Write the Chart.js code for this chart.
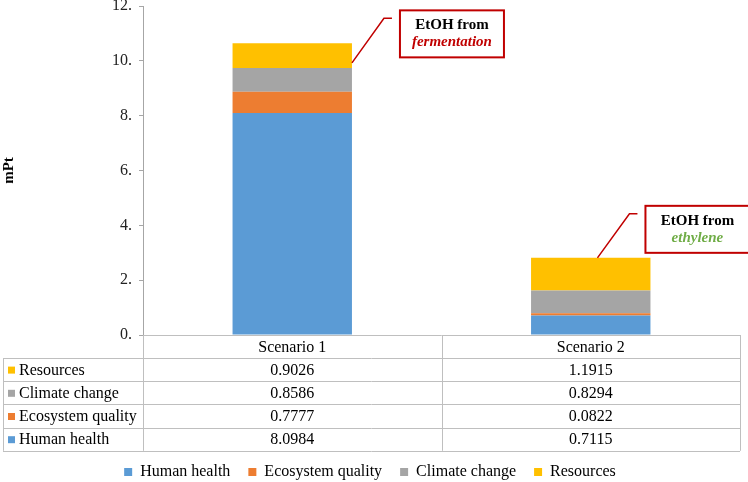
<!DOCTYPE html>
<html>
<head>
<meta charset="utf-8">
<script src="https://cdn.jsdelivr.net/npm/chart.js@4/dist/chart.umd.min.js"></script>
<style>
  body { margin: 0; background: #fff; }
  #wrap { width: 748px; height: 482px; }
</style>
</head>
<body>
<div id="wrap"><canvas id="impact"></canvas></div>
<script>
var scenarios = ['Scenario 1', 'Scenario 2'];
var humanHealth = [8.0984, 0.7115];
var ecosystemQuality = [0.7777, 0.0822];
var climateChange = [0.8586, 0.8294];
var resources = [0.9026, 1.1915];
var yTicks = [0, 2, 4, 6, 8, 10, 12];

var seriesNames = ['Human health', 'Ecosystem quality', 'Climate change', 'Resources'];
var seriesColors = ['#5B9BD5', '#ED7D31', '#A5A5A5', '#FFC000'];
var seriesValues = [humanHealth, ecosystemQuality, climateChange, resources];

var calloutTitle = 'EtOH from';
var calloutSource = ['fermentation', 'ethylene'];
var calloutColors = ['#C00000', '#70AD47'];

var serif = '"Liberation Serif", "Times New Roman", serif';
var gridGray = '#BFBFBF';
var legendPadding = 18;
var legendFont = 16;

// callout placement relative to the top-right of each stacked bar
var callouts = [
    { lineFrom: [0, 19.5], lineMid: [32, -25], lineEnd: [40, -25], box: [48, -33, 104, 47] },
    { lineFrom: [-53, 0], lineMid: [-21, -44], lineEnd: [-13, -44], box: [-5, -52, 104, 47] }
];

function fmt(v) {
    return v.toFixed(4);
}

var tablePlugin = {
    id: 'dataTable',
    afterLayout: function (chart) {
        // drop the legend row down to the bottom of the page
        var lg = chart.legend;
        var newTop = 472 - legendPadding - legendFont / 2;
        var shift = newTop - lg.top;
        lg.top += shift;
        lg.bottom += shift;
    },
    afterDraw: function (chart) {
        var ctx = chart.ctx;
        var x = chart.scales.x;
        var area = chart.chartArea;
        var top = area.bottom;
        var headerH = 23;
        var rowH = 23.2;
        var left = 3;
        var right = area.right;
        var colEdges = [area.left];
        for (var i = 0; i < scenarios.length; i++) {
            colEdges.push(i + 1 < scenarios.length ? (x.getPixelForValue(i) + x.getPixelForValue(i + 1)) / 2 : right);
        }
        var rowsOrder = [3, 2, 1, 0];
        var bottom = top + headerH + rowH * rowsOrder.length;

        ctx.save();
        ctx.strokeStyle = gridGray;
        ctx.lineWidth = 1;
        ctx.beginPath();
        ctx.moveTo(area.left, top + 0.5);
        ctx.lineTo(right, top + 0.5);
        for (var r = 0; r <= rowsOrder.length; r++) {
            var yy = Math.round(top + headerH + r * rowH) + 0.5;
            ctx.moveTo(left, yy);
            ctx.lineTo(right, yy);
        }
        ctx.moveTo(left + 0.5, top + headerH);
        ctx.lineTo(left + 0.5, bottom);
        colEdges.forEach(function (cx) {
            ctx.moveTo(Math.round(cx) + 0.5, top);
            ctx.lineTo(Math.round(cx) + 0.5, bottom);
        });
        ctx.stroke();

        ctx.fillStyle = '#000';
        ctx.font = '16px ' + serif;
        ctx.textBaseline = 'middle';
        ctx.textAlign = 'center';
        scenarios.forEach(function (s, i) {
            ctx.fillText(s, (colEdges[i] + colEdges[i + 1]) / 2, top + headerH / 2 + 1);
        });
        rowsOrder.forEach(function (k, r) {
            var cy = top + headerH + r * rowH + rowH / 2 + 1;
            ctx.fillStyle = seriesColors[k];
            ctx.fillRect(left + 5, cy - 4, 7, 7);
            ctx.fillStyle = '#000';
            ctx.textAlign = 'left';
            ctx.fillText(seriesNames[k], left + 16, cy);
            ctx.textAlign = 'center';
            seriesValues[k].forEach(function (v, i) {
                ctx.fillText(fmt(v), (colEdges[i] + colEdges[i + 1]) / 2, cy);
            });
        });

        // callouts
        var topMeta = chart.getDatasetMeta(seriesValues.length - 1);
        topMeta.data.forEach(function (bar, i) {
            var c = callouts[i];
            var ox = bar.x + bar.width / 2;
            var oy = bar.y;
            ctx.strokeStyle = '#C00000';
            ctx.lineWidth = 1.5;
            ctx.beginPath();
            ctx.moveTo(ox + c.lineFrom[0], oy + c.lineFrom[1]);
            ctx.lineTo(ox + c.lineMid[0], oy + c.lineMid[1]);
            ctx.lineTo(ox + c.lineEnd[0], oy + c.lineEnd[1]);
            ctx.stroke();
            var bx = ox + c.box[0], by = oy + c.box[1], bw = c.box[2], bh = c.box[3];
            ctx.fillStyle = '#fff';
            ctx.fillRect(bx, by, bw, bh);
            ctx.lineWidth = 2;
            ctx.strokeRect(bx, by, bw, bh);
            ctx.textAlign = 'center';
            ctx.fillStyle = '#000';
            ctx.font = 'bold 15px ' + serif;
            ctx.fillText(calloutTitle, bx + bw / 2, by + 15);
            ctx.fillStyle = calloutColors[i];
            ctx.font = 'italic bold 15px ' + serif;
            ctx.fillText(calloutSource[i], bx + bw / 2, by + 32);
        });
        ctx.restore();
    }
};

var datasets = seriesNames.map(function (name, k) {
    return {
        label: name,
        data: seriesValues[k],
        backgroundColor: seriesColors[k],
        borderWidth: 0,
        barPercentage: 0.4,
        categoryPercentage: 1
    };
});

new Chart(document.getElementById('impact'), {
    type: 'bar',
    data: { labels: scenarios, datasets: datasets },
    plugins: [tablePlugin],
    options: {
        responsive: true,
        maintainAspectRatio: false,
        animation: false,
        layout: { padding: { top: 6, right: 8, left: 0, bottom: 0 } },
        plugins: {
            tooltip: { enabled: false },
            legend: {
                position: 'bottom',
                labels: {
                    boxWidth: 8,
                    boxHeight: 8,
                    padding: legendPadding,
                    color: '#000',
                    font: { family: serif, size: legendFont }
                }
            }
        },
        scales: {
            x: {
                stacked: true,
                grid: { display: false },
                border: { display: false },
                ticks: { display: false },
                afterFit: function (scale) {
                    var legendH = legendFont + legendPadding + 10;
                    scale.height = 482 - 335 - legendH;
                }
            },
            y: {
                stacked: true,
                min: 0,
                max: 12,
                afterBuildTicks: function (scale) {
                    scale.ticks = yTicks.map(function (v) { return { value: v }; });
                },
                afterFit: function (scale) {
                    scale.width = 143;
                    scale.paddingTop = 0;
                },
                grid: { drawOnChartArea: false, tickLength: 4, color: '#A6A6A6' },
                border: { color: '#A6A6A6' },
                ticks: {
                    color: '#222',
                    padding: 7,
                    font: { family: serif, size: 16 },
                    callback: function (v) { return v + '.'; }
                },
                title: {
                    display: true,
                    text: 'mPt',
                    color: '#000',
                    padding: 0,
                    font: { family: serif, size: 15, weight: 'bold' }
                }
            }
        }
    }
});
</script>
</body>
</html>
